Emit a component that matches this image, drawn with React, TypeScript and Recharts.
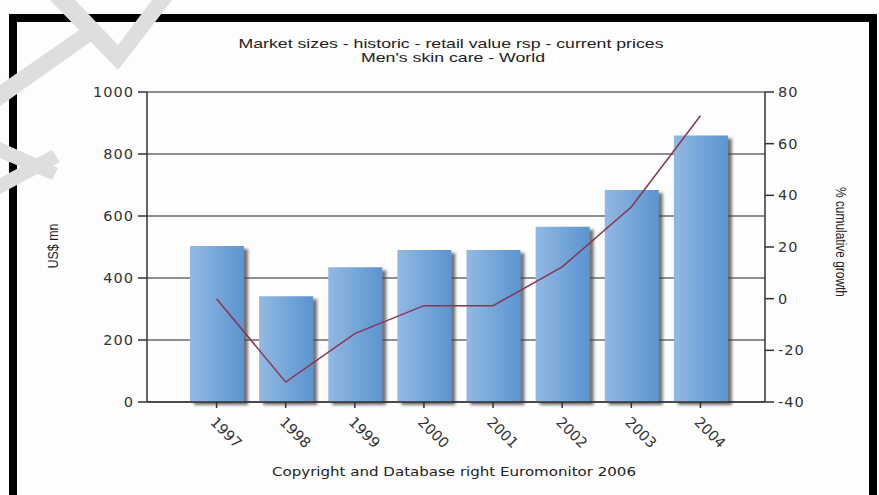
import React from "react";
import {
  ComposedChart,
  Bar,
  Line,
  XAxis,
  YAxis,
  CartesianGrid,
} from "recharts";

const years = ["1997", "1998", "1999", "2000", "2001", "2002", "2003", "2004"];
const marketSize = [503, 341, 435, 490, 490, 565, 684, 860];
const cumulativeGrowth = [0, -32.3, -13.5, -2.7, -2.7, 12.3, 35.5, 70.8];
const leftTicks = [0, 200, 400, 600, 800, 1000];
const rightTicks = [-40, -20, 0, 20, 40, 60, 80];

const data = years.map((year, i) => ({
  year,
  size: marketSize[i],
  growth: cumulativeGrowth[i],
}));

const AXIS = "#333";

const XTick = ({ x, y, payload }: any) => (
  <g transform={`translate(${x},${y})`}>
    <text
      transform="translate(-7,13) rotate(45)"
      textAnchor="start"
      fontSize={14.5}
      fontFamily="DejaVu Sans"
      fill="#333"
    >
      {payload.value}
    </text>
  </g>
);

export default function App() {
  return (
    <div
      style={{
        position: "absolute",
        left: 0,
        top: 0,
        width: 879,
        height: 495,
        background: "#fdfdfd",
        overflow: "hidden",
      }}
    >
      <div
        style={{
          position: "absolute",
          left: 9,
          top: 14,
          width: 852,
          height: 520,
          borderLeft: "8px solid #000",
          borderTop: "8px solid #000",
          borderRight: "8px solid #000",
        }}
      />
      <div style={{ position: "absolute", left: 0, top: 0 }}>
        <ComposedChart
          width={879}
          height={495}
          data={data}
          margin={{ top: 92, right: 64, bottom: 43, left: 97 }}
        >
          <defs>
            <linearGradient id="barFill" x1="0" y1="0" x2="1" y2="0">
              <stop offset="0%" stopColor="#92b9e2" />
              <stop offset="100%" stopColor="#5b94d0" />
            </linearGradient>
            <filter id="barShadow" x="-20%" y="-10%" width="150%" height="130%">
              <feDropShadow dx="4" dy="3" stdDeviation="1.6" floodColor="#444" floodOpacity="0.75" />
            </filter>
          </defs>
          <CartesianGrid
            yAxisId="left"
            vertical={false}
            stroke="#222"
            strokeWidth={1.2}
          />
          <XAxis
            dataKey="year"
            padding={{ left: 35, right: 30 }}
            height={50}
            stroke={AXIS}
            strokeWidth={1.5}
            tickSize={6}
            tick={<XTick />}
            interval={0}
          />
          <YAxis
            yAxisId="left"
            domain={[0, 1000]}
            ticks={leftTicks}
            width={50}
            stroke={AXIS}
            strokeWidth={1.5}
            tickSize={9}
            tickMargin={4}
            tick={{ fontSize: 14.5, fontFamily: "DejaVu Sans", fill: "#333", letterSpacing: 1 }}
          />
          <YAxis
            yAxisId="right"
            orientation="right"
            domain={[-40, 80]}
            ticks={rightTicks}
            width={50}
            stroke={AXIS}
            strokeWidth={1.5}
            tickSize={9}
            tickMargin={4}
            tick={{ fontSize: 14.5, fontFamily: "DejaVu Sans", fill: "#333", letterSpacing: 1 }}
          />
          <Bar
            yAxisId="left"
            dataKey="size"
            barSize={54}
            fill="url(#barFill)"
            filter="url(#barShadow)"
            isAnimationActive={false}
          />
          <Line
            yAxisId="right"
            dataKey="growth"
            type="linear"
            stroke="#8a3452"
            strokeWidth={1.5}
            dot={false}
            activeDot={false}
            isAnimationActive={false}
          />
        </ComposedChart>
      </div>
      <svg
        width={879}
        height={495}
        style={{ position: "absolute", left: 0, top: 0, pointerEvents: "none" }}
      >
        <g fontFamily="Liberation Sans" fill="#222" fontSize={13} textAnchor="middle">
          <text x={451} y={48} textLength={425} lengthAdjust="spacingAndGlyphs">
            Market sizes  - historic - retail value rsp - current prices
          </text>
          <text x={453} y={62} textLength={184} lengthAdjust="spacingAndGlyphs">
            Men's skin care - World
          </text>
        </g>
        <text
          transform="translate(58,246) rotate(-90)"
          textAnchor="middle"
          fontFamily="Liberation Sans Narrow, Liberation Sans"
          fontSize={14}
          fill="#222"
          textLength={45}
          lengthAdjust="spacingAndGlyphs"
        >
          US$ mn
        </text>
        <text
          transform="translate(836,242) rotate(90)"
          textAnchor="middle"
          fontFamily="Liberation Sans Narrow, Liberation Sans"
          fontSize={14}
          fill="#222"
          textLength={110}
          lengthAdjust="spacingAndGlyphs"
        >
          % cumulative growth
        </text>
        <text
          x={454}
          y={476}
          textAnchor="middle"
          fontFamily="DejaVu Sans"
          fontSize={13}
          fill="#222"
          textLength={364}
          lengthAdjust="spacingAndGlyphs"
        >
          Copyright and Database right Euromonitor 2006
        </text>
        <g fill="#dedede">
          <polygon points="50,0 118,70 172,0 152,0 118,45 75,0" />
          <polygon points="0,85 0,106 96,38 88,24" />
          <polygon points="0,142 58,168 52,180 0,158" />
          <polygon points="0,178 52,150 60,162 0,194" />
        </g>
      </svg>
    </div>
  );
}
